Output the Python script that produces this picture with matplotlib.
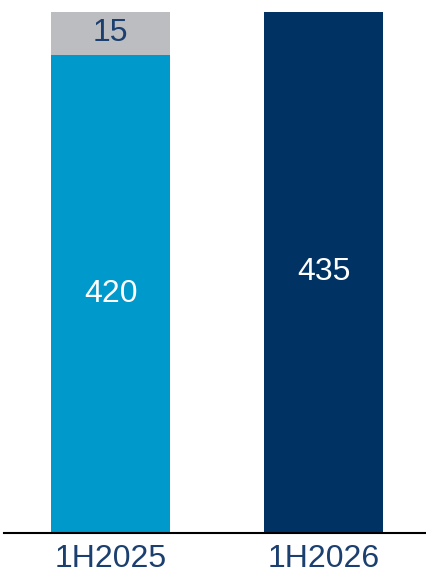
import numpy as np
import matplotlib.pyplot as plt

# data
periods = ['1H2025', '1H2026']
base = [420, 435]
extra = [15, 0]

# the value axis of the original chart does not start at zero
Y_FLOOR = 253

LIGHT_BLUE = '#0099CC'
NAVY = '#003363'
GREY = '#BCBDC1'
TEXT_NAVY = '#1B3F6E'

plt.rcParams['font.family'] = ['Liberation Sans', 'DejaVu Sans']

fig = plt.figure(figsize=(4.26, 5.74), dpi=100)
ax = fig.add_axes([4 / 426, 41 / 574, 422 / 426, 521 / 574])

x = np.arange(len(periods))
width = 0.56
base_colors = [LIGHT_BLUE, NAVY]

ax.bar(x, base, width=width, color=base_colors, zorder=2)
ax.bar(x, extra, width=width, bottom=base, color=GREY, zorder=2)

# labels inside the visible part of each segment
for xi, b, e in zip(x, base, extra):
    ax.text(xi, (Y_FLOOR + b) / 2, f'{b}', ha='center', va='center',
            color='white', fontsize=23)
    if e > 0:
        ax.text(xi, b + e / 2, f'{e}', ha='center', va='center',
                color=TEXT_NAVY, fontsize=23)

ax.set_xlim(-0.5, 1.481)
ax.set_ylim(Y_FLOOR, max(b + e for b, e in zip(base, extra)))

for s in ['top', 'right', 'left']:
    ax.spines[s].set_visible(False)
ax.spines['bottom'].set_color('black')
ax.spines['bottom'].set_linewidth(1.5)
ax.spines['bottom'].set_zorder(3)

ax.set_yticks([])
ax.set_xticks(x)
ax.set_xticklabels(periods, fontsize=23, color=TEXT_NAVY)
ax.tick_params(axis='x', length=0, pad=8)

fig.savefig('out.png', dpi=100)
